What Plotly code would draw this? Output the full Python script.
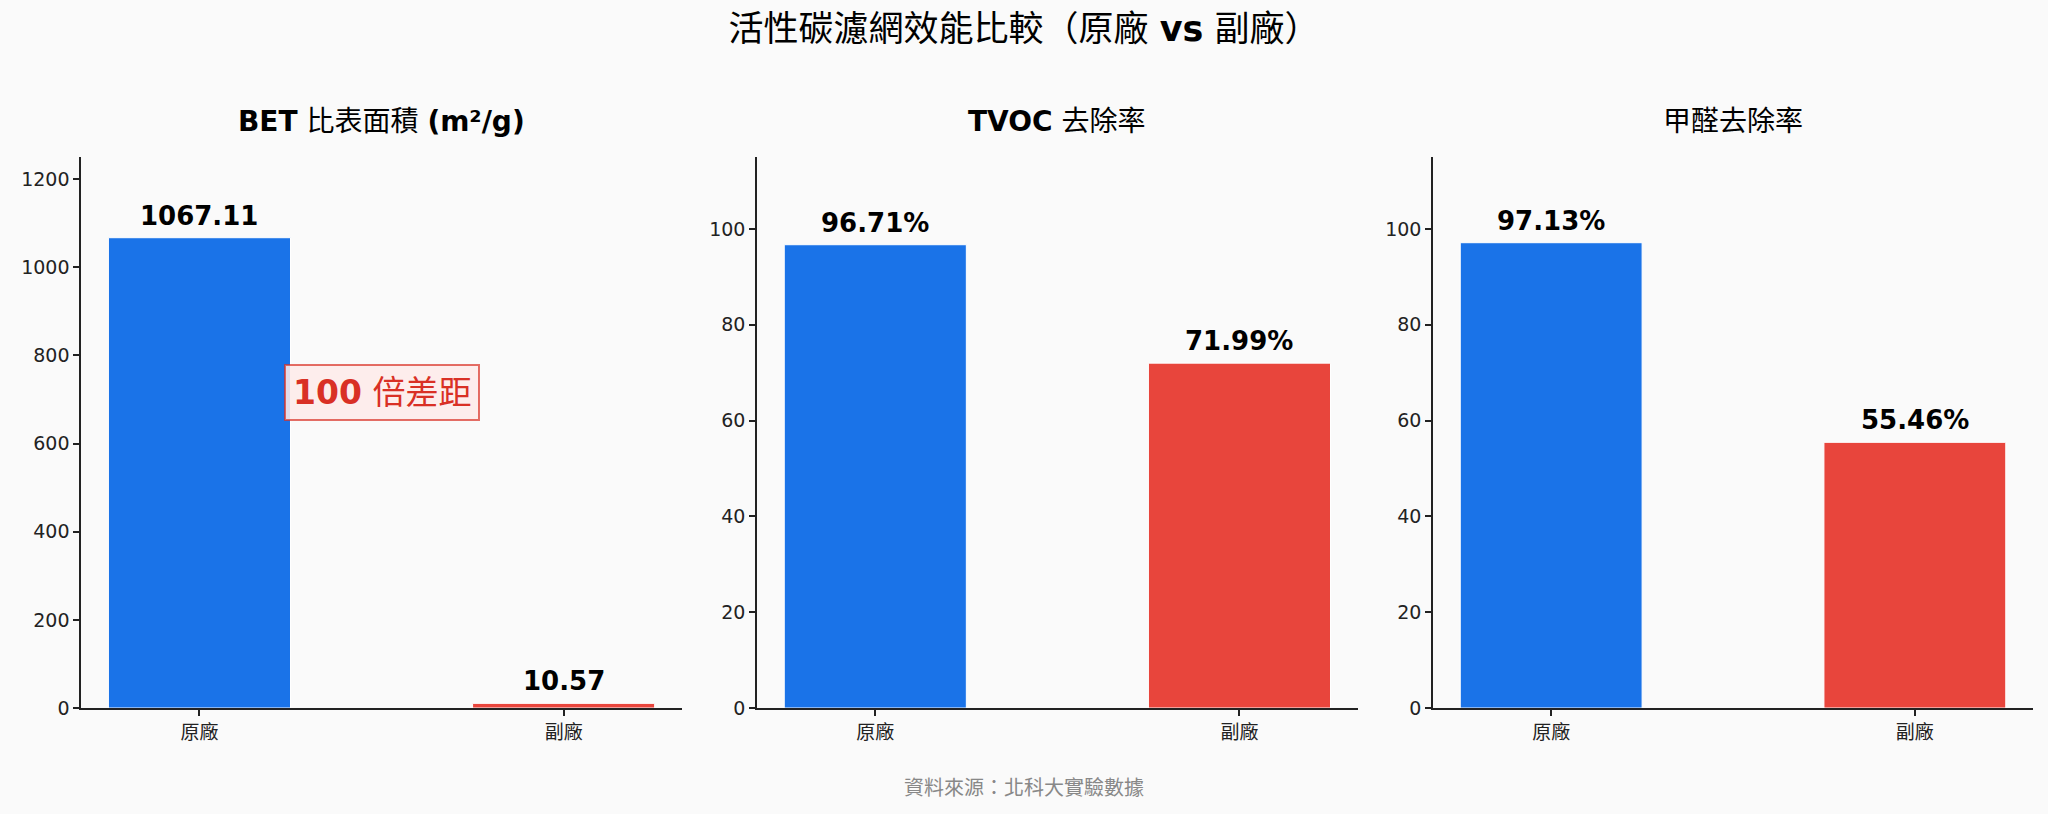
import plotly.graph_objects as go
from plotly.subplots import make_subplots

# data
brands = ['原廠', '副廠']
bet_area = [1067.11, 10.57]
tvoc_rate = [96.71, 71.99]
hcho_rate = [97.13, 55.46]

panel_titles = ['<b>BET</b> 比表面積 <b>(m²/g)</b>', '<b>TVOC</b> 去除率', '甲醛去除率']
bar_colors = ['#1a73e8', '#e8453c']

FONT = 'DejaVu Sans, Noto Sans CJK TC, sans-serif'
BG = '#fafafa'

fig = make_subplots(rows=1, cols=3, horizontal_spacing=0.04)

panels = [
    (bet_area, '{:.2f}', [0, 1250], [0, 200, 400, 600, 800, 1000, 1200]),
    (tvoc_rate, '{:.2f}%', [0, 115], [0, 20, 40, 60, 80, 100]),
    (hcho_rate, '{:.2f}%', [0, 115], [0, 20, 40, 60, 80, 100]),
]

x_domains = [[0.0396, 0.333], [0.3696, 0.663], [0.6997, 0.9927]]
y_domain = [0.1302, 0.807]

for i, (vals, fmt, yr, ticks) in enumerate(panels):
    col = i + 1
    fig.add_trace(go.Bar(
        x=brands, y=vals, width=0.5,
        marker=dict(color=bar_colors, line=dict(color='white', width=1)),
        showlegend=False, hoverinfo='x+y',
    ), row=1, col=col)

    # value labels above bars
    for b, v in zip(brands, vals):
        fig.add_annotation(
            x=b, y=v, text='<b>' + fmt.format(v) + '</b>',
            xref='x%d' % col if col > 1 else 'x',
            yref='y%d' % col if col > 1 else 'y',
            showarrow=False, yanchor='bottom', yshift=5,
            font=dict(family=FONT, size=26, color='black'),
        )

    xa = 'xaxis' if col == 1 else 'xaxis%d' % col
    ya = 'yaxis' if col == 1 else 'yaxis%d' % col
    fig.layout[xa].update(
        domain=x_domains[i], range=[-0.325, 1.325], automargin=False,
        showline=True, linecolor='#222', linewidth=1.5,
        ticks='outside', ticklen=6, tickcolor='#222', tickwidth=1.5,
        showgrid=False, zeroline=False,
        tickfont=dict(family=FONT, size=19, color='#222'),
    )
    fig.layout[ya].update(
        domain=y_domain, range=yr, tickvals=ticks, automargin=False,
        showline=True, linecolor='#222', linewidth=1.5,
        ticks='outside', ticklen=6, tickcolor='#222', tickwidth=1.5,
        showgrid=False, zeroline=False,
        tickfont=dict(family=FONT, size=19, color='#222'),
    )

    # panel title
    fig.add_annotation(
        x=(x_domains[i][0] + x_domains[i][1]) / 2, y=0.851,
        xref='paper', yref='paper', text=panel_titles[i],
        showarrow=False, xanchor='center', yanchor='middle',
        font=dict(family=FONT, size=28, color='black'),
    )

# gap callout on BET panel
fig.add_annotation(
    x=0.5, y=715, xref='x', yref='y',
    text='<b>100</b> 倍差距', showarrow=False,
    font=dict(family=FONT, size=33, color='#d93025'),
    bgcolor='rgba(253,234,233,0.88)',
    bordercolor='rgba(217,48,37,0.7)', borderwidth=2, borderpad=7,
)

# source note
fig.add_annotation(
    x=0.5, y=1 - 788 / 814, xref='paper', yref='paper',
    text='資料來源：北科大實驗數據', showarrow=False,
    xanchor='center', yanchor='middle',
    font=dict(family=FONT, size=20, color='#888888'),
)

fig.update_layout(
    width=2048, height=814,
    margin=dict(l=0, r=0, t=0, b=0),
    paper_bgcolor=BG, plot_bgcolor=BG,
    title=dict(
        text='活性碳濾網效能比較（原廠 <b>vs</b> 副廠）',
        x=0.5, y=1 - 29 / 814, xanchor='center', yanchor='middle',
        font=dict(family=FONT, size=35, color='black'),
    ),
)

fig.write_html('out.html', config={'displayModeBar': False},
               post_script="document.body.style.margin='0';")
